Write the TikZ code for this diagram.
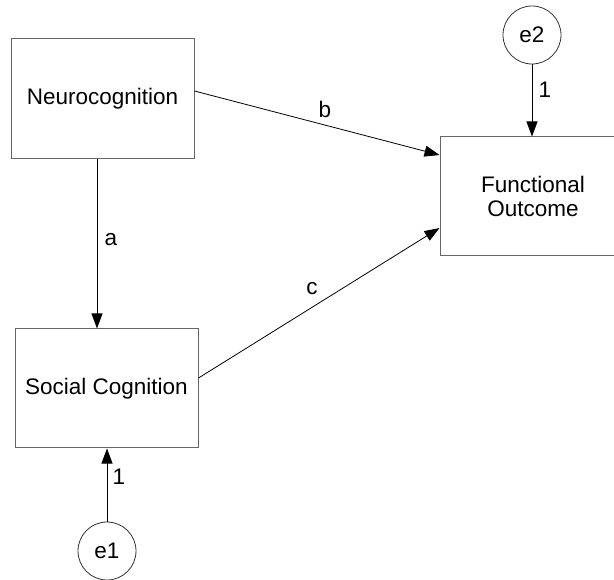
\documentclass[tikz,border=0pt]{standalone}
\usepackage{fontspec}
\setmainfont{Liberation Sans}
\usetikzlibrary{arrows.meta}
\begin{document}
\begin{tikzpicture}[x=1pt,y=-1pt,
  every node/.style={font=\fontsize{22.5}{24}\selectfont, inner sep=0pt},
  var/.style={draw=black!60, line width=1pt, rectangle, align=center},
  err/.style={draw=black!80, line width=0.8pt, circle, minimum size=58pt},
  path/.style={draw=black, line width=0.8pt, -{Triangle[length=15pt,width=11pt]}},
  lbl/.style={anchor=center}]
  \useasboundingbox (0,0) rectangle (614,580);
  \clip (0,0) rectangle (614,580);

  % observed variables
  \node[var, minimum width=183pt, minimum height=120pt] (NC) at (102.5,99) {Neurocognition};
  \node[var, minimum width=183pt, minimum height=119pt] (SC) at (106.5,388.5) {Social Cognition};
  \node[var, minimum width=186pt, minimum height=119pt] (FO) at (533,196.5) {Functional\\Outcome};

  % error terms
  \node[err] (e2) at (532,35) {e2};
  \node[err] (e1) at (107,551) {e1};

  % structural paths
  \draw[path] ([xshift=-5.5pt]NC.south) -- ([xshift=-9.5pt]SC.north);
  \draw[path] ([yshift=8pt]NC.east) -- ([yshift=41.5pt]FO.west);
  \draw[path] ([yshift=10.5pt]SC.east) -- ([yshift=-31.5pt]FO.west);
  \draw[path] (e2.south) -- (e2.south |- FO.north);
  \draw[path] (e1.north) -- (e1.north |- SC.south);

  % path labels
  \node[lbl] (la) at (111,240) {a};
  \node[lbl] (lb) at (325,109) {b};
  \node[lbl] (lc) at (312,289) {c};
  \node[lbl] (l2) at (545,90) {1};
  \node[lbl] (l1) at (119,477) {1};
\end{tikzpicture}
\end{document}
